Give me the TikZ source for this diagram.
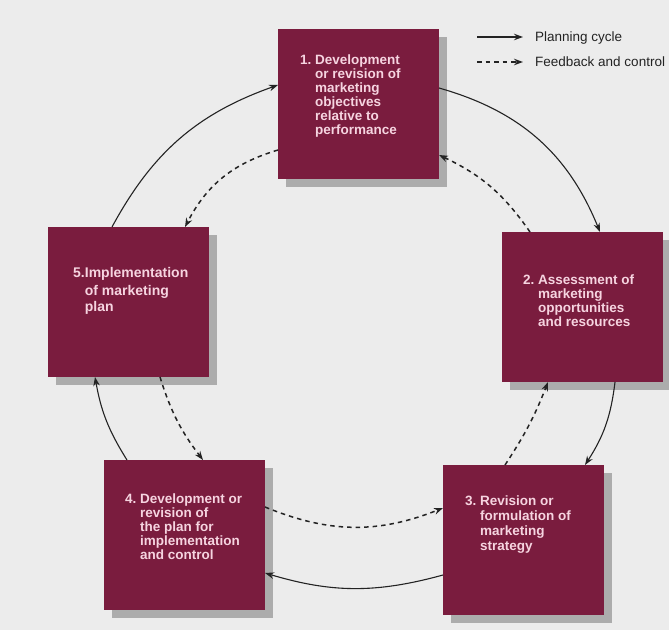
\documentclass[tikz,border=0pt]{standalone}
\usepackage{fontspec}
\setmainfont{Liberation Sans}
\usetikzlibrary{arrows.meta,shadows}

\definecolor{paper}{RGB}{236,236,236}
\definecolor{stagefill}{RGB}{122,28,62}
\definecolor{stageink}{RGB}{246,212,224}
\definecolor{shade}{RGB}{172,172,172}
\definecolor{ink}{RGB}{35,35,35}

\tikzset{
  stage/.style={fill=stagefill, minimum width=161pt, minimum height=150pt,
    inner sep=0pt, outer sep=0pt, anchor=north west,
    drop shadow={shadow xshift=8pt, shadow yshift=-8pt, fill=shade, opacity=1}},
  stagetext/.style={anchor=base west, inner sep=0pt, text=stageink,
    font=\bfseries\fontsize{13.5}{14}\selectfont},
  legendtext/.style={anchor=base west, inner sep=0pt, text=ink,
    font=\fontsize{13.5}{16}\selectfont},
  plancycle/.style={draw=ink, line width=1.1pt, -{Stealth[length=9pt,width=6.5pt]}},
  feedbk/.style={draw=ink, line width=1.5pt, dash pattern=on 4.5pt off 4pt,
    -{Stealth[length=9pt,width=6.5pt]}},
}

\begin{document}
\begin{tikzpicture}[x=1pt,y=1pt]
  \fill[paper] (0,0) rectangle (669,630);
  \useasboundingbox (0,0) rectangle (669,630);

  % the five stages of the cycle
  \node[stage] (b1) at (278,601) {};
  \node[stage] (b2) at (502,398) {};
  \node[stage] (b3) at (443,165) {};
  \node[stage] (b4) at (104,170) {};
  \node[stage] (b5) at (48,403) {};

  \node[stagetext] (t1) at (300,565) {\begin{tabular}[t]{@{}l@{\ }l@{}}
    1. & Development\\ & or revision of\\ & marketing\\ & objectives\\
    & relative to\\ & performance\end{tabular}};
  \node[stagetext] (t2) at (523,345) {\begin{tabular}[t]{@{}l@{\ }l@{}}
    2. & Assessment of\\ & marketing\\ & opportunities\\ & and resources\end{tabular}};
  \node[stagetext, font=\bfseries\fontsize{13.5}{15}\selectfont] (t3) at (465,125)
    {\begin{tabular}[t]{@{}l@{\ }l@{}}
    3. & Revision or\\ & formulation of\\ & marketing\\ & strategy\end{tabular}};
  \node[stagetext] (t4) at (125,127) {\begin{tabular}[t]{@{}l@{\ }l@{}}
    4. & Development or\\ & revision of\\ & the plan for\\ & implementation\\
    & and control\end{tabular}};
  \node[stagetext, font=\bfseries\fontsize{14}{17}\selectfont] (t5) at (73,352)
    {\begin{tabular}[t]{@{}l@{}l@{}}
    5. & Implementation\\ & of marketing\\ & plan\end{tabular}};

  % planning cycle (clockwise, outer ring)
  \draw[plancycle] ([yshift=-59pt]b1.north east) to[bend left=26] ([xshift=98pt]b2.north west);
  \draw[plancycle] ([xshift=113pt]b2.south west) to[bend left=13] ([xshift=142pt]b3.north west);
  \draw[plancycle] ([yshift=-110pt]b3.north west) to[bend left=16] ([yshift=-113pt]b4.north east);
  \draw[plancycle] ([xshift=23pt]b4.north west) to[bend left=11] ([xshift=47pt]b5.south west);
  \draw[plancycle] ([xshift=64pt]b5.north west) to[bend left=21] ([yshift=-56pt]b1.north west);

  % feedback and control (counter-clockwise, inner ring)
  \draw[feedbk] ([xshift=28pt]b2.north west) to[bend right=15] ([yshift=-126pt]b1.north east);
  \draw[feedbk] ([xshift=62pt]b3.north west) to[bend right=6] ([xshift=46pt]b2.south west);
  \draw[feedbk] ([yshift=-47pt]b4.north east) to[bend right=22] ([yshift=-43pt]b3.north west);
  \draw[feedbk] ([xshift=112pt]b5.south west) to[bend right=10] ([xshift=99pt]b4.north west);
  \draw[feedbk] ([yshift=-121pt]b1.north west) to[bend right=23] ([xshift=137pt]b5.north west);

  % legend
  \coordinate (ls1) at (477,593);
  \coordinate (le1) at (523,593);
  \draw[plancycle] (ls1) -- (le1);
  \node[legendtext] (lt1) at (535,588) {Planning cycle};
  \coordinate (ls2) at (477,568);
  \coordinate (le2) at (523,568);
  \draw[feedbk] (ls2) -- (le2);
  \node[legendtext] (lt2) at (535,563) {Feedback and control};
\end{tikzpicture}
\end{document}
